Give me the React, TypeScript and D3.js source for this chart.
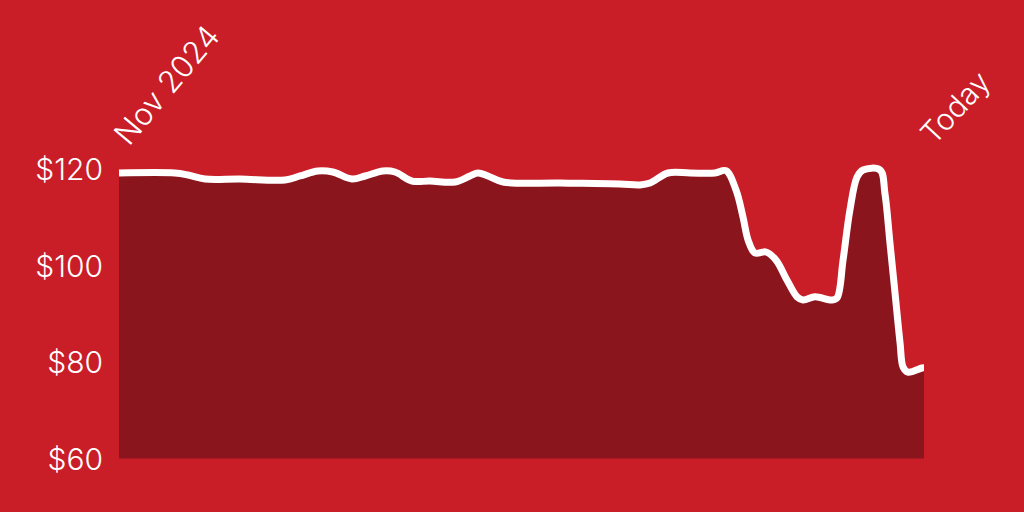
import React from "react";
import * as d3 from "d3";

// Days since Nov 1, 2024 and price values (USD)
const days = [
  0, 24.3, 30, 37.4, 52.6, 72.2, 78.7, 86.5, 93, 101.3, 107, 114.8, 120, 127.4, 135.2,
  146.1, 152.6, 156.1, 160.4, 167, 191.7, 217.8, 226.5, 230.9, 238.7, 248.3, 259.1,
  263.9, 268.3, 271.3, 273.5, 276.5, 281.3, 285.7, 290.4, 294.8, 297.4, 302.6, 310,
  312.2, 314.8, 317.8, 320.9, 323.5, 330.9, 333, 335.2, 337.4, 339.6, 340.9, 343,
  349.1, 350,
];
const prices = [
  119.17, 119.17, 118.76, 117.93, 117.93, 117.72, 118.55, 119.59, 119.38, 117.93, 118.55,
  119.59, 119.38, 117.5, 117.5, 117.3, 118.55, 119.17, 118.55, 117.3, 117.1, 116.9, 116.7,
  117.1, 119.17, 119.17, 119.17, 119.65, 115.6, 110.05, 105.3, 102.6, 102.8, 101.1, 97.0,
  93.5, 92.85, 93.5, 92.85, 93.3, 101.1, 111.5, 118.35, 119.8, 119.8, 115.0, 104.7, 94.3,
  83.9, 78.96, 77.9, 78.76, 78.8,
];
const yTicks = [120, 100, 80, 60];
const startLabel = "Nov 2024";
const endLabel = "Today";

const W = 1024;
const H = 512;
const BG = "#C91D28";
const AREA = "#8B151D";

export default function App() {
  const left = 119;
  const right = 924;
  const x = d3.scaleLinear().domain([0, 350]).range([left, right]);
  const y = d3.scaleLinear().domain([60, 120]).range([458.5, 169]);
  const data = days.map((d, i) => ({ d, v: prices[i] }));
  const curve = d3.curveCatmullRom.alpha(0.5);

  const area = d3
    .area<{ d: number; v: number }>()
    .x((p) => x(p.d))
    .y0(y(60))
    .y1((p) => y(p.v))
    .curve(curve);
  const line = d3
    .line<{ d: number; v: number }>()
    .x((p) => x(p.d))
    .y((p) => y(p.v))
    .curve(curve);

  const font = "Inter, 'Noto Sans', sans-serif";

  return (
    <svg
      width={W}
      height={H}
      viewBox={`0 0 ${W} ${H}`}
      style={{ position: "absolute", left: 0, top: 0, display: "block" }}
    >
      <rect width={W} height={H} fill={BG} />
      <path d={area(data) ?? ""} fill={AREA} />
      <path
        d={line(data) ?? ""}
        fill="none"
        stroke="#fff"
        strokeWidth={7}
        strokeLinejoin="round"
        strokeLinecap="butt"
      />
      {yTicks.map((t) => (
        <text
          key={t}
          x={103}
          y={y(t)}
          textAnchor="end"
          dominantBaseline="central"
          fill="#fff"
          fontFamily={font}
          fontSize={30}
          fontWeight={300}
        >
          ${t}
        </text>
      ))}
      <text
        transform={`translate(${x(0) + 10},147) rotate(-50)`}
        fill="#fff"
        fontFamily={font}
        fontSize={31}
        fontWeight={300}
      >
        {startLabel}
      </text>
      <text
        transform={`translate(${x(350) + 10},146) rotate(-47)`}
        fill="#fff"
        fontFamily={font}
        fontSize={30}
        fontWeight={300}
      >
        {endLabel}
      </text>
    </svg>
  );
}
